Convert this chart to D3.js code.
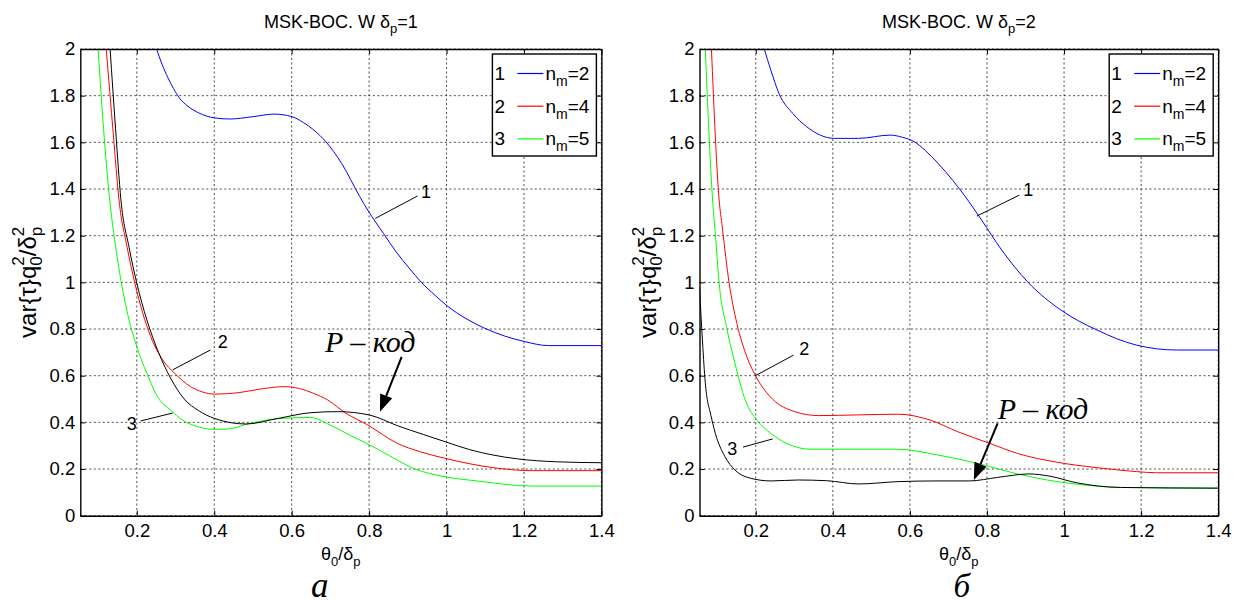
<!DOCTYPE html>
<html>
<head>
<meta charset="utf-8">
<script src="https://cdnjs.cloudflare.com/ajax/libs/d3/7.8.5/d3.min.js"></script>
<style>
  body { margin: 0; background: #fff; }
  svg text { font-family: "Liberation Sans", Arial, sans-serif; fill: #000; }
</style>
</head>
<body>
<div id="chart"></div>
<script>
// ---- data ----
var xTicks = [0.2, 0.4, 0.6, 0.8, 1, 1.2, 1.4];
var yTicks = [0, 0.2, 0.4, 0.6, 0.8, 1, 1.2, 1.4, 1.6, 1.8, 2];
var xDomain = [0.054, 1.4];
var yDomain = [0, 2];
var legendNames = ["1", "2", "3"];
var legendNm = ["2", "4", "5"];
var seriesColors = ["#0000ff", "#ff0000", "#00ff00", "#000000"];
var titles = ["1", "2"];
var captions = ["а", "б"];

// panel a (δp = 1)
var a_nm2 = [[0.251,2.0],[0.265,1.935],[0.28,1.878],[0.295,1.83],[0.31,1.79],[0.33,1.757],[0.36,1.726],
  [0.40,1.705],[0.44,1.700],[0.50,1.710],[0.554,1.721],[0.601,1.710],[0.63,1.685],[0.657,1.653],
  [0.688,1.603],[0.729,1.510],[0.776,1.367],[0.80,1.30],[0.837,1.21],[0.87,1.13],[0.904,1.06],
  [0.935,1.0],[0.97,0.945],[1.001,0.90],[1.05,0.845],[1.099,0.803],[1.15,0.77],[1.202,0.746],
  [1.263,0.729],[1.4,0.729]];
var a_nm4 = [[0.121,2.0],[0.139,1.64],[0.154,1.353],[0.175,1.15],[0.195,0.996],[0.215,0.87],[0.236,0.767],
  [0.267,0.667],[0.298,0.610],[0.339,0.553],[0.37,0.53],[0.400,0.521],[0.462,0.527],[0.524,0.544],
  [0.58,0.553],[0.62,0.545],[0.657,0.524],[0.693,0.496],[0.740,0.439],[0.796,0.389],[0.873,0.310],
  [0.93,0.275],[0.996,0.246],[1.120,0.206],[1.222,0.193],[1.4,0.193]];
var a_nm5 = [[0.100,2.0],[0.114,1.66],[0.130,1.353],[0.150,1.10],[0.174,0.881],[0.2,0.724],[0.226,0.610],
  [0.256,0.503],[0.287,0.453],[0.318,0.410],[0.36,0.38],[0.400,0.370],[0.44,0.372],[0.482,0.391],
  [0.565,0.416],[0.647,0.421],[0.699,0.389],[0.75,0.345],[0.802,0.303],[0.86,0.25],[0.914,0.203],
  [0.996,0.167],[1.078,0.149],[1.222,0.127],[1.4,0.127]];
var a_pcode = [[0.131,2.0],[0.145,1.66],[0.159,1.353],[0.18,1.15],[0.2,0.996],[0.226,0.839],[0.256,0.700],
  [0.287,0.590],[0.323,0.499],[0.36,0.45],[0.400,0.417],[0.482,0.393],[0.565,0.417],[0.647,0.441],
  [0.719,0.446],[0.802,0.431],[0.873,0.386],[0.94,0.348],[1.0,0.315],[1.06,0.283],[1.12,0.26],
  [1.181,0.244],[1.284,0.231],[1.4,0.227]];

// panel б (δp = 2)
var b_nm2 = [[0.222,2.0],[0.239,1.91],[0.260,1.810],[0.296,1.724],[0.332,1.667],[0.404,1.617],[0.466,1.617],
  [0.549,1.631],[0.58,1.622],[0.611,1.603],[0.64,1.565],[0.673,1.510],[0.750,1.353],[0.786,1.267],
  [0.838,1.139],[0.905,1.003],[0.992,0.881],[1.085,0.796],[1.188,0.731],[1.292,0.710],[1.4,0.710]];
var b_nm4 = [[0.085,2.0],[0.105,1.353],[0.113,1.238],[0.131,0.996],[0.151,0.824],[0.177,0.681],[0.203,0.589],
  [0.244,0.499],[0.301,0.446],[0.363,0.429],[0.466,0.432],[0.569,0.435],[0.652,0.410],[0.724,0.360],
  [0.807,0.310],[0.879,0.267],[0.982,0.229],[1.085,0.206],[1.188,0.189],[1.240,0.184],[1.4,0.184]];
var b_nm5 = [[0.069,2.0],[0.088,1.353],[0.095,1.210],[0.105,0.996],[0.124,0.810],[0.146,0.653],[0.174,0.490],
  [0.203,0.410],[0.239,0.353],[0.280,0.310],[0.342,0.285],[0.466,0.285],[0.569,0.285],[0.673,0.260],
  [0.776,0.224],[0.879,0.179],[0.982,0.146],[1.085,0.127],[1.147,0.121],[1.4,0.118]];
var b_pcode = [[0.054,0.98],[0.062,0.74],[0.069,0.57],[0.075,0.49],[0.08,0.455],[0.095,0.353],[0.120,0.253],
  [0.146,0.196],[0.188,0.160],[0.239,0.149],[0.311,0.153],[0.384,0.150],[0.466,0.136],[0.569,0.146],
  [0.673,0.149],[0.755,0.149],[0.827,0.164],[0.910,0.179],[0.961,0.170],[1.033,0.141],[1.147,0.121],[1.4,0.118]];

// curve number labels: [label x, label baseline y, leader start x, y, leader end x, y]
var a_marks = [[0.934,1.361,0.925,1.37,0.816,1.274],[0.409,0.719,0.390,0.710,0.2925,0.625],[0.174,0.367,0.210,0.406,0.2925,0.440]];
var b_marks = [[0.894,1.371,0.884,1.374,0.7736,1.284],[0.313,0.689,0.298,0.688,0.198,0.599],[0.126,0.261,0.167,0.294,0.244,0.329]];
// "P – код" text position and arrow [text x, text y, arrow from x, y, tip x, y]
var a_pnote = [0.686, 0.703, 0.884, 0.681, 0.828, 0.446];
var b_pnote = [0.828, 0.4165, 0.8276, 0.396, 0.766, 0.153];

var panels = [
  { left: 80.3, right: 601.4, series: [a_nm2, a_nm4, a_nm5, a_pcode], marks: a_marks, pnote: a_pnote,
    title: titles[0], caption: captions[0], capSize: 35, capDx: -21 },
  { left: 699.5, right: 1218.2, series: [b_nm2, b_nm4, b_nm5, b_pcode], marks: b_marks, pnote: b_pnote,
    title: titles[1], caption: captions[1], capSize: 33, capDx: 3 }
];
var plotTop = 49, plotBottom = 515.7;

var svg = d3.select("#chart").append("svg")
  .attr("width", 1243).attr("height", 606);

panels.forEach(function(p, i) {
  var x = d3.scaleLinear().domain(xDomain).range([p.left, p.right]);
  var y = d3.scaleLinear().domain(yDomain).range([plotBottom, plotTop]);
  var cx = (p.left + p.right) / 2;
  var g = svg.append("g");

  svg.append("clipPath").attr("id", "clip" + i)
    .append("rect").attr("x", p.left).attr("y", plotTop)
    .attr("width", p.right - p.left).attr("height", plotBottom - plotTop);

  // grid
  g.append("g").selectAll("line").data(xTicks).join("line")
    .attr("x1", function(d) { return x(d); }).attr("x2", function(d) { return x(d); })
    .attr("y1", plotTop).attr("y2", plotBottom)
    .attr("stroke", "#222").attr("stroke-width", 0.8).attr("stroke-dasharray", "2,2.5");
  g.append("g").selectAll("line").data(yTicks).join("line")
    .attr("y1", function(d) { return y(d); }).attr("y2", function(d) { return y(d); })
    .attr("x1", p.left).attr("x2", p.right)
    .attr("stroke", "#222").attr("stroke-width", 0.8).attr("stroke-dasharray", "2,2.5");

  // curves
  var line = d3.line()
    .x(function(d) { return x(d[0]); })
    .y(function(d) { return y(d[1]); })
    .curve(d3.curveMonotoneX);
  var cg = g.append("g").attr("clip-path", "url(#clip" + i + ")");
  p.series.forEach(function(s, k) {
    cg.append("path").attr("d", line(s))
      .attr("fill", "none").attr("stroke", seriesColors[k]).attr("stroke-width", 1);
  });

  // axes (MATLAB style: ticks inside, box)
  var fmt = function(d) { return String(d); };
  g.append("g").attr("transform", "translate(0," + plotBottom + ")")
    .call(d3.axisBottom(x).tickValues(xTicks).tickSizeInner(-5).tickSizeOuter(0).tickPadding(8).tickFormat(fmt));
  g.append("g").attr("transform", "translate(0," + plotTop + ")")
    .call(d3.axisTop(x).tickValues(xTicks).tickSizeInner(-5).tickSizeOuter(0).tickFormat(""));
  g.append("g").attr("transform", "translate(" + p.left + ",0)")
    .call(d3.axisLeft(y).tickValues(yTicks).tickSizeInner(-5).tickSizeOuter(0).tickPadding(5).tickFormat(fmt));
  g.append("g").attr("transform", "translate(" + p.right + ",0)")
    .call(d3.axisRight(y).tickValues(yTicks).tickSizeInner(-5).tickSizeOuter(0).tickFormat(""));
  g.selectAll(".domain").attr("stroke", "#000").attr("stroke-width", 1.4);
  g.selectAll(".tick line").attr("stroke", "#000");
  g.selectAll(".tick text").style("font-size", "18.5px").style("font-family", "Liberation Sans, Arial, sans-serif");

  // title
  var t = svg.append("text").attr("x", cx).attr("y", 28).attr("text-anchor", "middle").style("font-size", "18px");
  t.append("tspan").text("MSK-BOC. W δ");
  t.append("tspan").attr("dy", 5).style("font-size", "13px").text("p");
  t.append("tspan").attr("dy", -5).text("=" + p.title);

  // x label
  var xl = svg.append("text").attr("x", cx).attr("y", 560).attr("text-anchor", "middle").style("font-size", "18px");
  xl.append("tspan").text("θ");
  xl.append("tspan").attr("dy", 6).style("font-size", "13px").text("0");
  xl.append("tspan").attr("dy", -6).text("/δ");
  xl.append("tspan").attr("dy", 6).style("font-size", "13px").text("p");

  // y label
  var yl = svg.append("text")
    .attr("transform", "translate(" + (p.left - 44) + "," + ((plotTop + plotBottom) / 2) + ") rotate(-90)")
    .attr("text-anchor", "middle").style("font-size", "24px");
  yl.append("tspan").text("var{τ}q");
  yl.append("tspan").attr("dy", 6).style("font-size", "17px").text("0");
  yl.append("tspan").attr("dx", -9.45).attr("dy", -18).style("font-size", "17px").text("2");
  yl.append("tspan").attr("dy", 12).text("/δ");
  yl.append("tspan").attr("dy", 6).style("font-size", "17px").text("p");
  yl.append("tspan").attr("dx", -9.45).attr("dy", -18).style("font-size", "17px").text("2");

  // caption
  svg.append("text").attr("x", cx + p.capDx).attr("y", 597).attr("text-anchor", "middle")
    .style("font-family", "Liberation Serif, Times New Roman, serif").style("font-style", "italic")
    .style("font-size", p.capSize + "px").text(p.caption);

  // legend
  var lx = p.right - 109, ly = plotTop + 5;
  var lg = g.append("g");
  lg.append("rect").attr("x", lx).attr("y", ly).attr("width", 104).attr("height", 102)
    .attr("fill", "#fff").attr("stroke", "#000").attr("stroke-width", 1.4);
  legendNames.forEach(function(n, k) {
    var by = ly + 26 + k * 32.7;
    lg.append("text").attr("x", lx + 2).attr("y", by).style("font-size", "19px").text(n);
    lg.append("line").attr("x1", lx + 25).attr("x2", lx + 51).attr("y1", by - 6.5).attr("y2", by - 6.5)
      .attr("stroke", seriesColors[k]).attr("stroke-width", 1.2);
    var lt = lg.append("text").attr("x", lx + 53).attr("y", by).style("font-size", "19px");
    lt.append("tspan").text("n");
    lt.append("tspan").attr("dy", 6).style("font-size", "14px").text("m");
    lt.append("tspan").attr("dy", -6).text("=" + legendNm[k]);
  });

  // curve number labels with leader lines
  p.marks.forEach(function(m, k) {
    g.append("line").attr("x1", x(m[2])).attr("y1", y(m[3])).attr("x2", x(m[4])).attr("y2", y(m[5]))
      .attr("stroke", "#000").attr("stroke-width", 1);
    g.append("text").attr("x", x(m[0])).attr("y", y(m[1])).style("font-size", "18px").text(legendNames[k]);
  });

  // P – код note with arrow
  var pn = p.pnote;
  g.append("text").attr("x", x(pn[0])).attr("y", y(pn[1]))
    .style("font-family", "Liberation Serif, Times New Roman, serif").style("font-style", "italic")
    .style("font-size", "30px").text("P – код");
  var sx = x(pn[2]), sy = y(pn[3]), tx = x(pn[4]), ty = y(pn[5]);
  var len = Math.hypot(tx - sx, ty - sy), ux = (tx - sx) / len, uy = (ty - sy) / len;
  var hl = 17, hw = 6.5, bx = tx - ux * hl, byy = ty - uy * hl;
  g.append("line").attr("x1", sx).attr("y1", sy).attr("x2", bx).attr("y2", byy)
    .attr("stroke", "#000").attr("stroke-width", 2);
  g.append("polygon")
    .attr("points", [[tx, ty], [bx - uy * hw, byy + ux * hw], [bx + uy * hw, byy - ux * hw]].map(function(q) { return q.join(","); }).join(" "))
    .attr("fill", "#000");
});
</script>
</body>
</html>
